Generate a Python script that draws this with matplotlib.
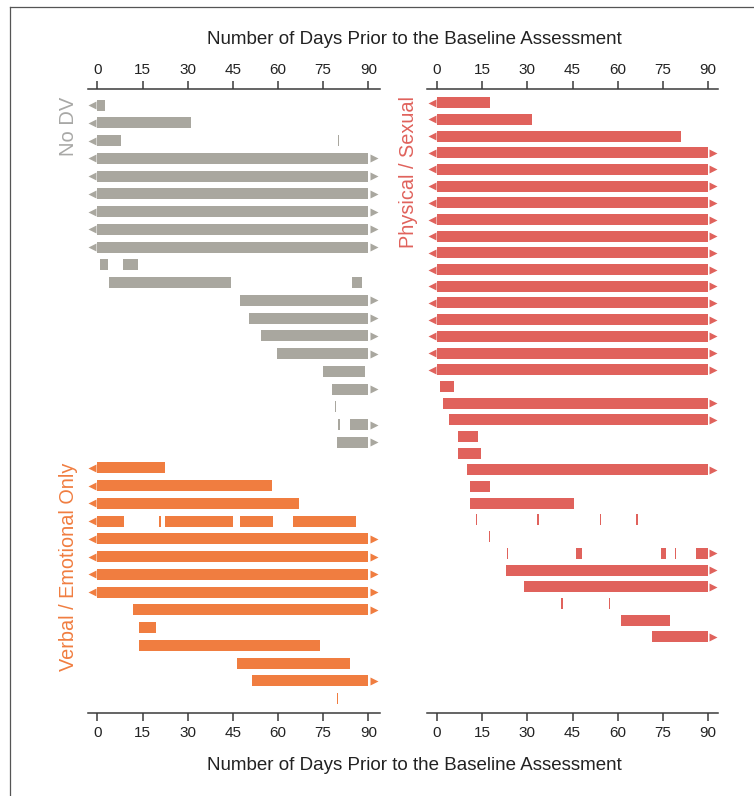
import matplotlib
matplotlib.use("Agg")
import matplotlib.pyplot as plt
from matplotlib.lines import Line2D

plt.rcParams['font.family'] = ['Liberation Sans', 'DejaVu Sans']

# ---------------- data: (start_day, end_day) segments per participant row ----------------
no_dv_rows = [
    [(0, 2.5)],
    [(0, 31)],
    [(0, 8), (79.8, 80.2)],
    [(0, 90)], [(0, 90)], [(0, 90)], [(0, 90)], [(0, 90)], [(0, 90)],
    [(1, 3.5), (8.5, 13.5)],
    [(4, 44.5), (84.5, 88)],
    [(47.5, 90)],
    [(50.5, 90)],
    [(54.5, 90)],
    [(59.5, 90)],
    [(75, 89)],
    [(77.8, 90)],
    [(79, 79.4)],
    [(80, 80.5), (84, 90)],
    [(79.5, 90)],
]

verbal_rows = [
    [(0, 22.5)],
    [(0, 58)],
    [(0, 67)],
    [(0, 9), (20.5, 21), (22.5, 45), (47.5, 58.5), (65, 86)],
    [(0, 90)], [(0, 90)], [(0, 90)], [(0, 90)],
    [(12, 90)],
    [(14, 19.5)],
    [(14, 74)],
    [(46.5, 84)],
    [(51.5, 90)],
    [(79.5, 80)],
]

physical_rows = [
    [(0, 17.5)],
    [(0, 31.5)],
    [(0, 81)],
    [(0, 90)], [(0, 90)], [(0, 90)], [(0, 90)], [(0, 90)], [(0, 90)], [(0, 90)],
    [(0, 90)], [(0, 90)], [(0, 90)], [(0, 90)], [(0, 90)], [(0, 90)], [(0, 90)],
    [(1, 5.5)],
    [(2, 90)],
    [(4, 90)],
    [(7, 13.5)],
    [(7, 14.5)],
    [(10, 90)],
    [(11, 17.5)],
    [(11, 45.5)],
    [(13, 13.4), (33.2, 34), (54, 54.6), (66.2, 66.6)],
    [(17.2, 17.6)],
    [(23.2, 23.6), (46.3, 48), (74.4, 76), (79, 79.4), (86, 90)],
    [(23, 90)],
    [(29, 90)],
    [(41.3, 41.7), (57, 57.4)],
    [(61, 77.5)],
    [(71.5, 90)],
]

group_labels = ["No DV", "Verbal / Emotional Only", "Physical / Sexual"]
x_ticks = [0, 15, 30, 45, 60, 75, 90]
x_title = "Number of Days Prior to the Baseline Assessment"

# ---------------- style ----------------
GREY = "#A9A79F"
GREY_TXT = "#A8A8A6"
ORANGE = "#F07D40"
RED = "#E0625C"
AXC = "#3a3a3a"
MAXDAY = 90

W, H = 754, 796
fig = plt.figure(figsize=(W / 100, H / 100), dpi=100)
fig.patch.set_facecolor("white")


def rect(x0, x1, y0, y1):
    return [x0 / W, 1 - y1 / H, (x1 - x0) / W, (y1 - y0) / H]


axL = fig.add_axes(rect(88.3, 380.4, 89.3, 713.3))
axR = fig.add_axes(rect(427, 718, 89.3, 713.3))


def style_axis(ax, xlim, ylim):
    ax.set_xlim(*xlim)
    ax.set_ylim(*ylim)
    for s in ("left", "right"):
        ax.spines[s].set_visible(False)
    for s in ("top", "bottom"):
        ax.spines[s].set_color(AXC)
        ax.spines[s].set_linewidth(1.1)
    ax.set_yticks([])
    ax.set_xticks(x_ticks)
    ax.tick_params(axis="x", top=True, bottom=True, labeltop=True, labelbottom=True,
                   direction="out", length=5.5, width=1.1, color=AXC,
                   labelsize=11, labelcolor="#222222", pad=3.5)
    ax.patch.set_alpha(0)


def draw_rows(ax, rows, y0, color, h):
    for i, segs in enumerate(rows):
        y = y0 + i
        ax.broken_barh([(s, e - s) for s, e in segs], (y - h / 2, h),
                       facecolors=color, edgecolor="none")
        if segs[0][0] <= 0:
            ax.plot(-1.8, y, marker="<", ms=5.5, color=color, mec="none", clip_on=False)
        if segs[-1][1] >= MAXDAY:
            ax.plot(MAXDAY + 1.8, y, marker=">", ms=5.5, color=color, mec="none", clip_on=False)


# left panel: No DV then Verbal/Emotional with a small gap
gap = 0.45
draw_rows(axL, no_dv_rows, 0, GREY, 0.62)
draw_rows(axL, verbal_rows, len(no_dv_rows) + gap, ORANGE, 0.62)
style_axis(axL, (-3.0, 94.0), (len(no_dv_rows) + len(verbal_rows) + gap - 1 + 0.82, -0.885))

draw_rows(axR, physical_rows, 0, RED, 0.66)
style_axis(axR, (-3.32, 93.3), (36.58, -0.80))

# group labels (rotated, top-aligned)
fig.text(69 / W, 1 - 97 / H, group_labels[0], rotation=90, ha="center", va="top",
         fontsize=14.5, color=GREY_TXT)
fig.text(69 / W, 1 - 463 / H, group_labels[1], rotation=90, ha="center", va="top",
         fontsize=14.3, color=ORANGE)
fig.text(408 / W, 1 - 96 / H, group_labels[2], rotation=90, ha="center", va="top",
         fontsize=14.3, color=RED)

# axis titles
fig.text(414 / W, 1 - 39 / H, x_title, ha="center", va="center", fontsize=13.5, color="#222222")
fig.text(414 / W, 1 - 766 / H, x_title, ha="center", va="center", fontsize=13.5, color="#222222")

# partial frame (top and left edges)
fig.add_artist(Line2D([10 / W, 10 / W], [0, 1 - 7 / H], transform=fig.transFigure,
                      color="#555555", lw=0.9))
fig.add_artist(Line2D([10 / W, 1], [1 - 7 / H, 1 - 7 / H], transform=fig.transFigure,
                      color="#555555", lw=0.9))

fig.savefig("out.png", dpi=100, facecolor="white")
